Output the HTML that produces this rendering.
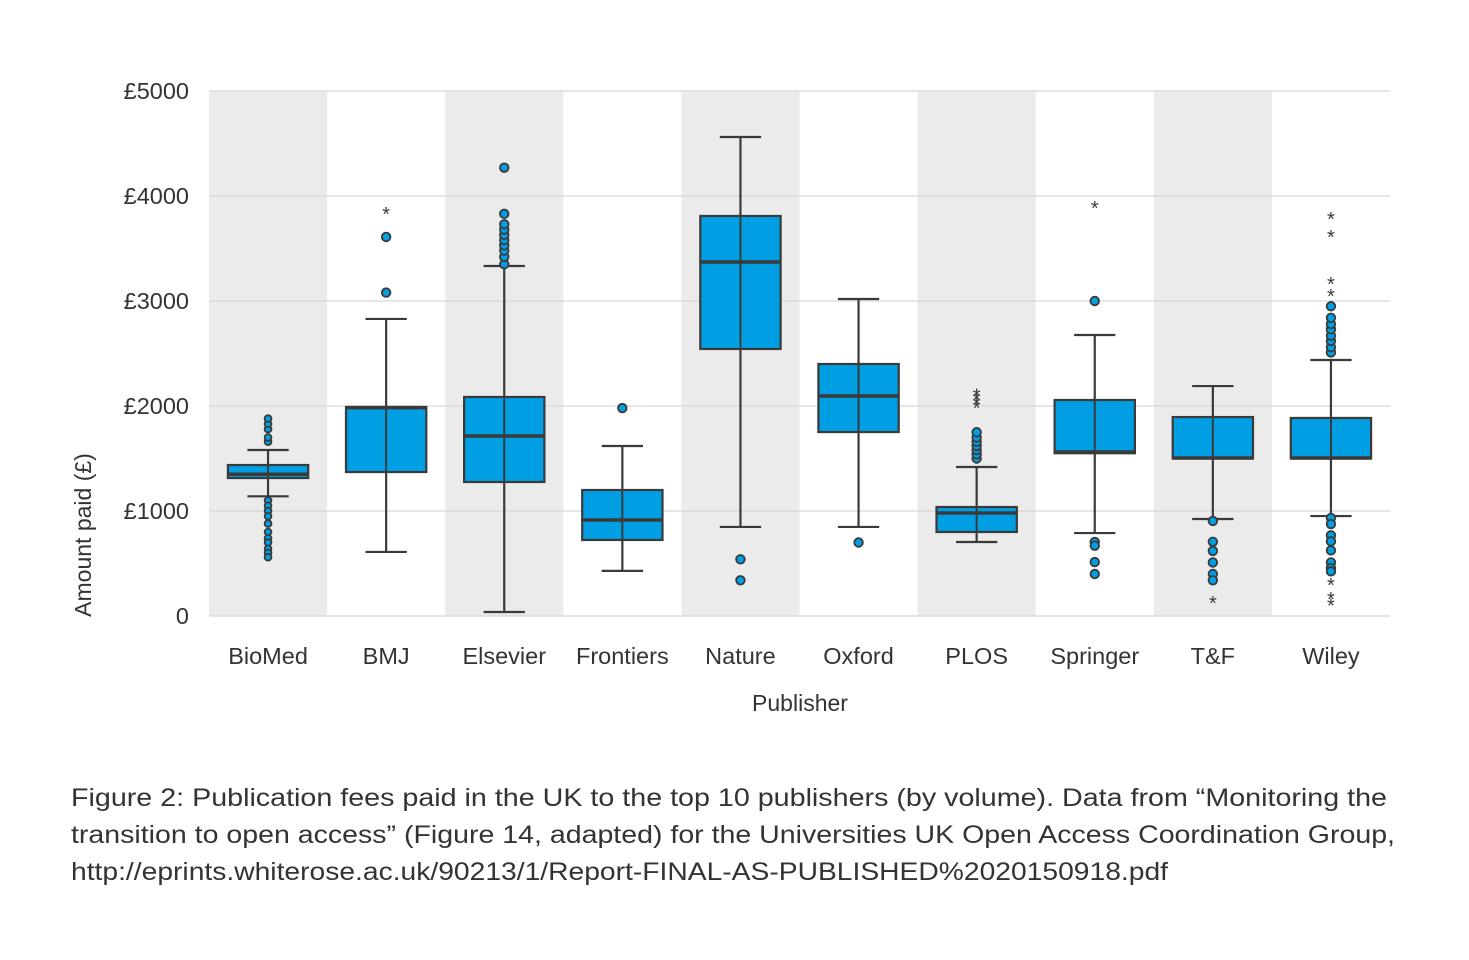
<!DOCTYPE html>
<html><head><meta charset="utf-8"><style>
html,body{margin:0;padding:0;background:#fff;}
svg{display:block;font-family:"Liberation Sans",sans-serif;}
</style></head><body>
<svg id="chart" width="1469" height="960" viewBox="0 0 1469 960" xmlns="http://www.w3.org/2000/svg">
<g id="bands"></g><g id="grid"></g><g id="boxes"></g><g id="axes"></g>
<text x="0" y="0" transform="translate(91,535) rotate(-90)" text-anchor="middle" font-size="23" fill="#333">Amount paid (£)</text>
<text x="800" y="711" text-anchor="middle" font-size="23" fill="#333">Publisher</text>
<g font-size="25" fill="#333">
<text x="71" y="806" textLength="1316" lengthAdjust="spacingAndGlyphs">Figure 2: Publication fees paid in the UK to the top 10 publishers (by volume). Data from “Monitoring the</text>
<text x="71" y="843" textLength="1324" lengthAdjust="spacingAndGlyphs">transition to open access” (Figure 14, adapted)  for the Universities UK Open Access Coordination Group,</text>
<text x="71" y="880" textLength="1097" lengthAdjust="spacingAndGlyphs">http://eprints.whiterose.ac.uk/90213/1/Report-FINAL-AS-PUBLISHED%2020150918.pdf</text>
</g>
</svg>
<script>
const categories=["BioMed","BMJ","Elsevier","Frontiers","Nature","Oxford","PLOS","Springer","T&F","Wiley"];
const whiskerLow=[1140,610,38,430,848,848,705,790,924,952];
const q1=[1314,1371,1276,724,2543,1752,800,1550,1500,1500];
const median=[1350,1985,1714,914,3371,2095,981,1562,1505,1505];
const q3=[1438,1990,2086,1200,3810,2400,1038,2057,1895,1886];
const whiskerHigh=[1581,2829,3333,1619,4562,3019,1419,2676,2190,2438];
const outliers=[
 [1660,1700,1780,1830,1880,1100,1050,1000,950,880,800,740,700,640,600,560],
 [3080,3610],
 [3350,3420,3480,3530,3580,3630,3680,3730,3830,4270],
 [1980],
 [540,340],
 [700],
 [1500,1540,1580,1620,1660,1700,1750],
 [3000,705,670,514,400],
 [905,707,620,510,400,340],
 [2510,2560,2620,2670,2730,2780,2840,2950,933,876,768,711,625,510,457,425]
];
const extremes=[[],[3850],[],[],[],[],[2000,2040,2080,2120],[3905],[143],[3067,3181,3629,3800,314,181,117]];
const yTicks=[0,1000,2000,3000,4000,5000];
const yTickLabels=["0","£1000","£2000","£3000","£4000","£5000"];

const NS="http://www.w3.org/2000/svg";
const X0=209,X1=1390,Y0=616,Ymax=91,VMAX=5000;
const bw=(X1-X0)/categories.length;
function y(v){return Y0-(v/VMAX)*(Y0-Ymax);}
function xc(i){return X0+bw*(i+0.5);}
function mk(tag,attrs,parent){const e=document.createElementNS(NS,tag);for(const k in attrs)e.setAttribute(k,attrs[k]);parent.appendChild(e);return e;}
const bands=document.getElementById('bands'),grid=document.getElementById('grid'),boxes=document.getElementById('boxes'),axes=document.getElementById('axes');
categories.forEach((c,i)=>{
 if(i%2===0){const r=mk('rect',{x:X0+bw*i,y:Ymax,width:bw,height:Y0-Ymax,fill:'#ebebeb'},bands);
 
 }
 const t=mk('text',{x:xc(i),y:664,'text-anchor':'middle','font-size':23.5,fill:'#333'},axes);
 t.textContent=c;
 
 
});
yTicks.forEach((v,i)=>{
 const l=mk('line',{x1:X0,x2:X1,y1:y(v),y2:y(v),stroke:'#d6d6d6','stroke-width':1.3},grid);
 
 
 const t=mk('text',{x:189,y:y(v)+8,'text-anchor':'end','font-size':23.5,fill:'#333'},axes);
 t.textContent=yTickLabels[i];
 
 
});
const S='#3a3a3a',F='#009fe3',boxW=bw*0.68,capW=bw*0.35;
categories.forEach((c,i)=>{
 const g=mk('g',{},boxes);
 
 
 const cx=xc(i);
 mk('line',{x1:cx,x2:cx,y1:y(whiskerLow[i]),y2:y(whiskerHigh[i]),stroke:S,'stroke-width':2.2},g);
 mk('line',{x1:cx-capW/2,x2:cx+capW/2,y1:y(whiskerLow[i]),y2:y(whiskerLow[i]),stroke:S,'stroke-width':2.2},g);
 mk('line',{x1:cx-capW/2,x2:cx+capW/2,y1:y(whiskerHigh[i]),y2:y(whiskerHigh[i]),stroke:S,'stroke-width':2.2},g);
 mk('rect',{x:cx-boxW/2,y:y(q3[i]),width:boxW,height:y(q1[i])-y(q3[i]),fill:F,stroke:S,'stroke-width':2.2},g);
 mk('line',{x1:cx,x2:cx,y1:y(q3[i]),y2:y(q1[i]),stroke:S,'stroke-width':2},g);
 mk('line',{x1:cx-boxW/2,x2:cx+boxW/2,y1:y(median[i]),y2:y(median[i]),stroke:S,'stroke-width':3.5},g);
 outliers[i].forEach(v=>{
  const o=mk('circle',{cx:cx,cy:y(v),r:i===0?3.4:4.3,fill:F,stroke:S,'stroke-width':1.8},g);
  
  
 });
 extremes[i].forEach(v=>{
  const s=mk('text',{x:cx,y:y(v)+9,'text-anchor':'middle','font-size':20,fill:S},g);
  s.textContent='*';
  
  
 });
});
</script>
</body></html>
